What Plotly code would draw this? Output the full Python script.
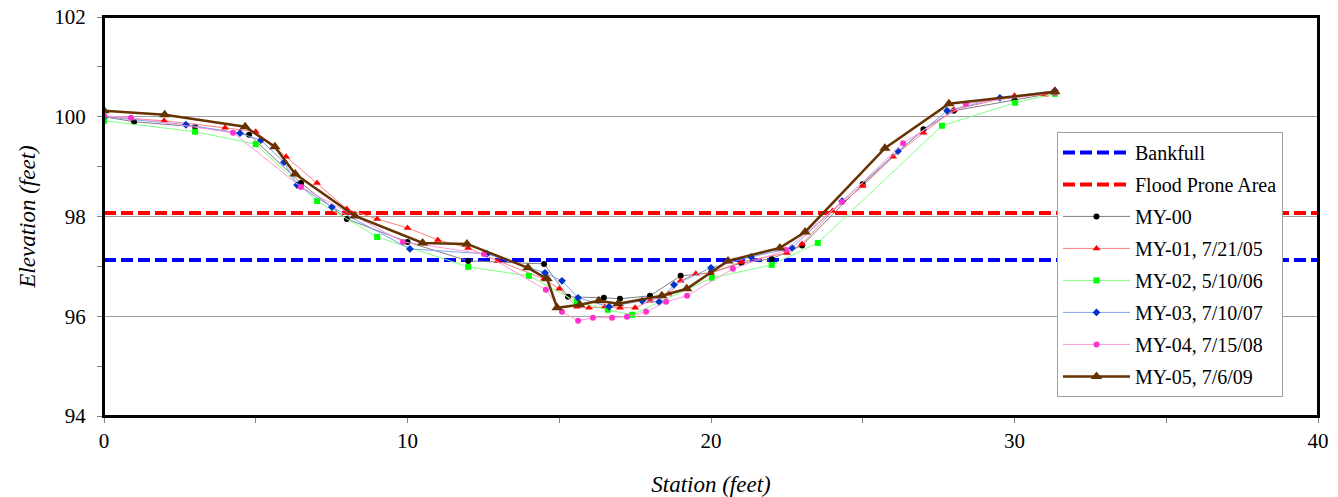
import plotly.graph_objects as go

# ---- data ----
bankfull_elev = 97.13
flood_elev = 98.07
ref_x = [0, 40]

my00_x = [0, 0.99, 3.0, 4.78, 6.49, 8.0, 10.0, 12.0, 14.5, 15.29, 16.47, 17.0, 17.99, 19.0, 20.0, 21.0, 22.0, 23.0, 25.0, 27.0, 28.0, 30.0, 31.33]
my00_y = [100.0, 99.9, 99.8, 99.64, 98.67, 97.95, 97.49, 97.11, 97.05, 96.39, 96.37, 96.35, 96.41, 96.81, 96.87, 97.07, 97.15, 97.42, 98.65, 99.75, 100.12, 100.34, 100.48]

my01_x = [0, 1.98, 3.99, 5.0, 6.0, 7.02, 8.0, 9.0, 10.0, 11.0, 12.0, 12.98, 14.5, 15.0, 15.58, 15.98, 16.5, 17.0, 17.5, 18.0, 18.6, 19.0, 19.5, 20.0, 21.0, 22.5, 23.0, 24.0, 25.0, 26.0, 27.0, 28.0, 30.0, 31.0, 31.33]
my01_y = [100.0, 99.92, 99.78, 99.7, 99.2, 98.67, 98.15, 97.95, 97.77, 97.53, 97.37, 97.11, 96.75, 96.55, 96.19, 96.17, 96.19, 96.17, 96.17, 96.31, 96.45, 96.71, 96.85, 96.87, 97.09, 97.27, 97.45, 98.11, 98.61, 99.2, 99.68, 100.14, 100.42, 100.44, 100.54]

my02_x = [0, 3.0, 5.0, 7.02, 9.0, 12.0, 14.0, 15.58, 16.6, 17.4, 20.03, 22.0, 23.52, 27.61, 30.02, 31.33]
my02_y = [99.92, 99.7, 99.45, 98.31, 97.59, 96.99, 96.81, 96.29, 96.13, 96.03, 96.77, 97.03, 97.47, 99.82, 100.28, 100.46]

my03_x = [0, 2.7, 4.48, 5.17, 5.93, 6.36, 7.51, 10.08, 12.62, 14.53, 15.09, 15.62, 16.64, 17.73, 18.29, 18.78, 20.0, 21.32, 22.67, 24.32, 26.16, 27.78, 29.52, 31.33]
my03_y = [100.0, 99.84, 99.67, 99.53, 99.09, 98.63, 98.19, 97.35, 97.25, 96.87, 96.71, 96.37, 96.19, 96.31, 96.29, 96.63, 96.97, 97.19, 97.37, 98.31, 99.31, 100.12, 100.38, 100.52]

my04_x = [0, 0.89, 4.25, 6.49, 9.85, 12.52, 14.56, 15.09, 15.62, 16.11, 16.74, 17.23, 17.86, 18.52, 19.21, 20.72, 22.47, 24.32, 26.33, 28.4, 31.33]
my04_y = [100.02, 99.98, 99.68, 98.59, 97.49, 97.25, 96.53, 96.09, 95.91, 95.97, 95.97, 95.99, 96.09, 96.29, 96.41, 96.95, 97.33, 98.29, 99.47, 100.26, 100.48]

my05_x = [0, 2.0, 4.65, 5.63, 6.3, 8.27, 10.5, 11.96, 13.97, 14.6, 14.93, 15.68, 16.3, 16.94, 18.38, 19.2, 20.56, 22.27, 23.1, 25.73, 27.84, 31.33]
my05_y = [100.12, 100.04, 99.8, 99.4, 98.85, 98.01, 97.47, 97.45, 96.97, 96.75, 96.17, 96.23, 96.31, 96.25, 96.41, 96.55, 97.11, 97.37, 97.69, 99.37, 100.26, 100.5]

x_ticks = [0, 10, 20, 30, 40]
y_ticks = [94, 96, 98, 100, 102]

serif = "Liberation Serif, Times New Roman, serif"

fig = go.Figure()

fig.add_trace(go.Scatter(x=ref_x, y=[bankfull_elev] * 2, mode="lines", name="Bankfull",
                         legendgroup="a", line=dict(color="#0000FF", width=4, dash="12px,5px")))
fig.add_trace(go.Scatter(x=ref_x, y=[flood_elev] * 2, mode="lines", name="Flood Prone Area",
                         legendgroup="b", line=dict(color="#FF0000", width=4, dash="12px,5px")))

series = [
    ("MY-00", my00_x, my00_y, "#808080", "#000000", "circle", 6, 1),
    ("MY-01, 7/21/05", my01_x, my01_y, "#FF8080", "#FF0000", "triangle-up", 7, 1),
    ("MY-02, 5/10/06", my02_x, my02_y, "#80FF80", "#00FF00", "square", 6, 1),
    ("MY-03, 7/10/07", my03_x, my03_y, "#7F9FEF", "#0033CC", "diamond", 6, 1),
    ("MY-04, 7/15/08", my04_x, my04_y, "#FF99DD", "#FF33CC", "circle", 6, 1),
    ("MY-05, 7/6/09", my05_x, my05_y, "#663300", "#663300", "triangle-up", 10, 2.5),
]
for i, (name, xs, ys, lc, mc, sym, ms, lw) in enumerate(series):
    fig.add_trace(go.Scatter(x=xs, y=ys, mode="lines+markers", name=name, legendgroup="g%d" % i,
                             line=dict(color=lc, width=lw),
                             marker=dict(color=mc, symbol=sym, size=ms, line=dict(width=0))))

fig.update_layout(
    width=1338, height=497,
    margin=dict(l=104, r=20, t=17, b=81, autoexpand=False),
    paper_bgcolor="white", plot_bgcolor="white",
    font=dict(family=serif, color="black", size=18),
    showlegend=True,
    legend=dict(x=0.785, y=0.712, xanchor="left", yanchor="top",
                bgcolor="white", bordercolor="#A0A0A0", borderwidth=1,
                font=dict(family=serif, size=20, color="black"),
                tracegroupgap=3, itemwidth=67),
    shapes=[dict(type="rect", xref="paper", yref="paper", x0=0, x1=1, y0=0, y1=1,
                 line=dict(color="black", width=2), fillcolor="rgba(0,0,0,0)", layer="above")],
    xaxis=dict(range=[0, 40], tickvals=x_ticks, ticktext=[str(v) for v in x_ticks],
               showgrid=False, zeroline=False, automargin=False, ticklabeloverflow="allow",
               showline=True, mirror=True, linecolor="black", linewidth=2,
               ticks="outside", ticklen=5, tickcolor="#808080",
               minor=dict(tickvals=[5, 15, 25, 35], ticks="outside", ticklen=5, tickcolor="#808080"),
               tickfont=dict(family=serif, size=21),
               title=dict(text="<i>Station (feet)</i>", font=dict(family=serif, size=23), standoff=32)),
    yaxis=dict(range=[94, 102], tickvals=y_ticks, ticktext=[str(v) for v in y_ticks],
               showgrid=True, gridcolor="#A0A0A0", gridwidth=1, zeroline=False, automargin=False,
               ticklabeloverflow="allow", ticklabelstandoff=7,
               showline=True, mirror=True, linecolor="black", linewidth=2,
               ticks="outside", ticklen=5, tickcolor="#808080",
               minor=dict(tickvals=[95, 97, 99, 101], ticks="outside", ticklen=5, tickcolor="#808080", showgrid=False),
               tickfont=dict(family=serif, size=21),
               title=dict(text="<i>Elevation (feet)</i>", font=dict(family=serif, size=23), standoff=12)),
)

fig.write_html("out.html", config={"displayModeBar": False},
               post_script="document.body.style.margin='0';document.body.style.overflow='hidden';")
